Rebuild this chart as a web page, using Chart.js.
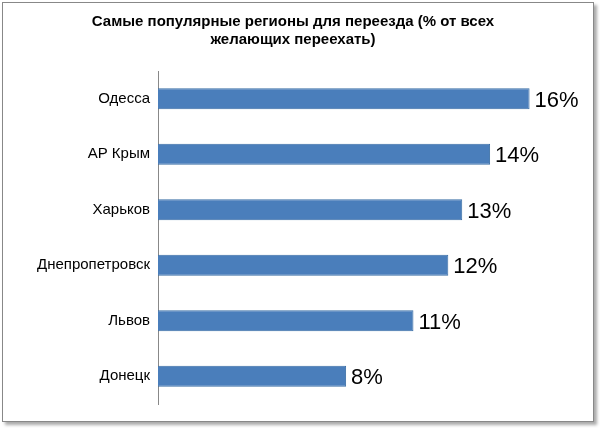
<!DOCTYPE html>
<html><head><meta charset="utf-8">
<script src="https://cdn.jsdelivr.net/npm/chart.js@4"></script>
<style>
body{margin:0;background:#fff}
#wrap{position:absolute;left:2px;top:2px;width:590px;height:418px;border:1px solid #888;box-shadow:3px 3px 3px #aaa;background:#fff}
</style></head><body>
<div id="wrap"><canvas id="c" width="590" height="418"></canvas></div>
<script>
const categories=["Одесса","АР Крым","Харьков","Днепропетровск","Львов","Донецк"];
const values=[16.0,14.3,13.1,12.5,11.0,8.1];
const valueLabels=["16%","14%","13%","12%","11%","8%"];
const titleLines=["Самые популярные регионы для переезда (% от всех","желающих переехать)"];
const labelPlugin={id:'lbl',afterDatasetsDraw(ch){const ctx=ch.ctx;const m=ch.getDatasetMeta(0);ctx.save();ctx.font='22px "Liberation Sans", Arial';ctx.fillStyle='#000';ctx.textBaseline='middle';m.data.forEach((b,i)=>{ctx.fillText(valueLabels[i],b.x+5,b.y+2);});ctx.restore();}};
new Chart(document.getElementById('c'),{type:'bar',
data:{labels:categories,datasets:[{data:values,backgroundColor:'#4a7ebb',borderColor:'#3a6ea5',borderWidth:1,barPercentage:0.38,categoryPercentage:1}]},
options:{indexAxis:'y',responsive:false,animation:false,
layout:{padding:{left:0,right:10,top:0,bottom:0}},
plugins:{legend:{display:false},tooltip:{enabled:false},
title:{display:true,text:titleLines,color:'#000',font:{family:'"Liberation Sans", Arial',size:15,weight:'bold'},padding:{top:10,bottom:22},lineHeight:1.6}},
scales:{x:{display:false,min:0,max:18.3},
y:{afterFit(s){s.width=155;},grid:{display:false,drawTicks:false},border:{color:'#888'},ticks:{color:'#000',padding:8,font:{family:'"Liberation Sans", Arial',size:15}}}}},
plugins:[labelPlugin]});
</script></body></html>
